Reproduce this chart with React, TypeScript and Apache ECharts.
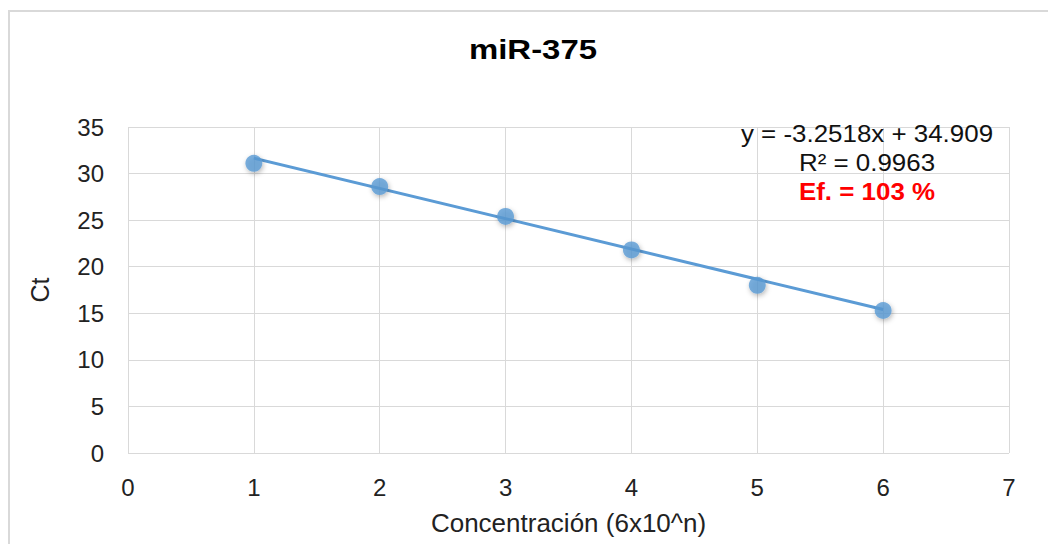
import React, { useEffect, useRef } from "react";
import * as echarts from "echarts";

const concentrations = [1, 2, 3, 4, 5, 6];
const ctValues = [31.1, 28.6, 25.4, 21.8, 18.0, 15.3];
const slope = -3.2518;
const intercept = 34.909;
const equationLines = ["y = -3.2518x + 34.909", "R² = 0.9963"];
const efficiencyText = "Ef. = 103 %";
const titleText = "miR-375";
const xName = "Concentración (6x10^n)";
const yName = "Ct";

export default function App() {
  const ref = useRef<HTMLDivElement>(null);
  useEffect(() => {
    if (!ref.current) return;
    const chart = echarts.init(ref.current, undefined, { renderer: "svg" });
    const points = concentrations.map((x, i) => [x, ctValues[i]]);
    const xs = [concentrations[0], concentrations[concentrations.length - 1]];
    const trend = xs.map((x) => [x, slope * x + intercept]);
    const font = "'Liberation Sans', Arial, sans-serif";
    chart.setOption({
      animation: false,
      backgroundColor: "#ffffff",
      graphic: [
        {
          type: "rect",
          shape: { x: 9, y: 11, width: 1100, height: 600 },
          style: { fill: "none", stroke: "#d9d9d9", lineWidth: 2 },
          silent: true,
          z: -1,
        },
        {
          type: "text",
          x: 533,
          y: 50,
          scaleX: 1.22,
          style: {
            text: titleText,
            fontFamily: font,
            fontSize: 27,
            fontWeight: "bold",
            fill: "#000",
            align: "center",
            verticalAlign: "middle",
          },
          z: 10,
        },
        {
          type: "text",
          x: 867,
          y: 119,
          scaleX: 1.08,
          style: {
            text: equationLines.join("\n"),
            fontFamily: font,
            fontSize: 24,
            lineHeight: 29,
            fill: "#111",
            align: "center",
          },
          z: 10,
        },
        {
          type: "text",
          x: 867,
          y: 179,
          scaleX: 1.08,
          style: {
            text: efficiencyText,
            fontFamily: font,
            fontSize: 24,
            fontWeight: "bold",
            fill: "#ff0000",
            align: "center",
          },
          z: 10,
        },
      ],
      grid: {
        left: 128,
        right: 39,
        top: 127,
        bottom: 91,
        containLabel: false,
        outerBoundsMode: "none",
      },
      xAxis: {
        type: "value",
        min: 0,
        max: 7,
        interval: 1,
        name: xName,
        nameLocation: "middle",
        nameGap: 57,
        nameTextStyle: { fontFamily: font, fontSize: 26, color: "#222" },
        axisLine: { show: false },
        axisTick: { show: false },
        axisLabel: { fontFamily: font, fontSize: 24, color: "#222", margin: 22 },
        splitLine: { show: true, lineStyle: { color: "#d9d9d9", width: 1 } },
      },
      yAxis: {
        type: "value",
        min: 0,
        max: 35,
        interval: 5,
        name: yName,
        nameLocation: "middle",
        nameGap: 76,
        nameTextStyle: { fontFamily: font, fontSize: 25, color: "#222" },
        axisLine: { show: false },
        axisTick: { show: false },
        axisLabel: { fontFamily: font, fontSize: 24, color: "#222", margin: 24 },
        splitLine: { show: true, lineStyle: { color: "#d9d9d9", width: 1 } },
      },
      series: [
        {
          type: "line",
          data: trend,
          showSymbol: false,
          symbol: "none",
          lineStyle: { color: "#5b9bd5", width: 3 },
          z: 2,
          silent: true,
        },
        {
          type: "scatter",
          data: points,
          symbol: "circle",
          symbolSize: 17,
          itemStyle: {
            color: "#5b9bd5",
            shadowColor: "rgba(0,0,0,0.35)",
            shadowBlur: 5,
            shadowOffsetX: 1,
            shadowOffsetY: 2,
          },
          z: 3,
        },
      ],
    });
    return () => chart.dispose();
  }, []);
  return (
    <div
      ref={ref}
      style={{ position: "absolute", left: 0, top: 0, width: 1048, height: 544 }}
    />
  );
}
